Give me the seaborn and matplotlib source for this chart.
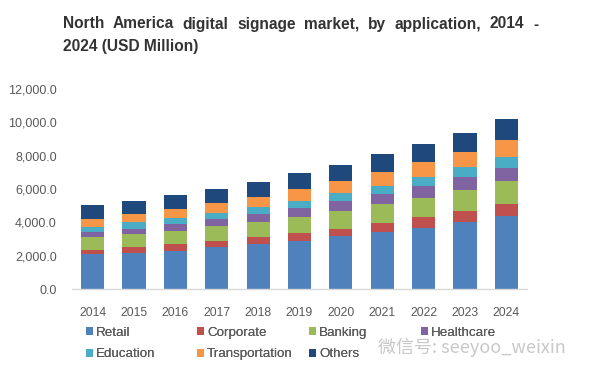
import numpy as np
import pandas as pd
import seaborn as sns
import matplotlib.pyplot as plt
from matplotlib.patches import Patch

years = ["2014", "2015", "2016", "2017", "2018", "2019", "2020", "2021", "2022", "2023", "2024"]
retail = [2080, 2180, 2300, 2500, 2700, 2900, 3180, 3440, 3680, 4020, 4380]
corporate = [260, 320, 400, 400, 400, 460, 440, 500, 620, 660, 700]
banking = [760, 780, 800, 880, 940, 980, 1060, 1140, 1180, 1260, 1380]
healthcare = [320, 320, 400, 440, 440, 540, 600, 600, 720, 780, 820]
education = [320, 420, 380, 320, 460, 400, 460, 520, 540, 580, 640]
transportation = [480, 460, 540, 600, 600, 720, 740, 800, 860, 940, 1000]
others = [820, 800, 800, 860, 900, 940, 980, 1080, 1120, 1140, 1260]

names = ["Retail", "Corporate", "Banking", "Healthcare", "Education", "Transportation", "Others"]
series = [retail, corporate, banking, healthcare, education, transportation, others]
colors = ["#4F81BD", "#C0504D", "#9BBB59", "#8064A2", "#4BACC6", "#F79646", "#1F497D"]

title1 = "North America digital signage market, by application, 2014 -"
title2 = "2024 (USD Million)"

df = pd.DataFrame(dict(zip(names, series)), index=years)
cum = df.cumsum(axis=1)

sns.set_style("white")
plt.rcParams['font.family'] = ['Liberation Sans', 'DejaVu Sans']

W, H = 592, 373
fig = plt.figure(figsize=(W / 100, H / 100), dpi=100)
ax = fig.add_axes([72 / W, 1 - 289 / H, 455 / W, 200 / H])

# stacked bars: draw cumulative totals from the top series down
for name, col in reversed(list(zip(names, colors))):
    sns.barplot(x=years, y=cum[name].values, color=col, width=0.56,
                saturation=1, ax=ax, linewidth=0)

ax.set_ylim(0, 12000)
ax.set_xlim(-0.5, 10.5)
ax.set_yticks(np.arange(0, 12001, 2000))
ax.set_yticklabels([f"{v:,.1f}" for v in np.arange(0, 12001, 2000)])
ax.tick_params(axis='both', length=0, labelcolor="#595959")
ax.tick_params(axis='y', pad=11, labelsize=9)
ax.tick_params(axis='x', pad=13, labelsize=8.7)
ax.set_xlabel("")
ax.set_ylabel("")
for s in ["top", "right", "left"]:
    ax.spines[s].set_visible(False)
ax.spines["bottom"].set_color("#D9D9D9")
ax.spines["bottom"].set_linewidth(1)

# justified title, line 1 spans from x=63 to x=538
renderer = fig.canvas.get_renderer()
words = title1.split()
texts = [fig.text(0, 1 - 24 / H, w, fontsize=11.2, fontweight="bold", color="#333333",
                  va="center", ha="left") for w in words]
widths = [t.get_window_extent(renderer).width for t in texts]
gap = (538 - 63 - sum(widths)) / (len(words) - 1)
x = 63
for t, w in zip(texts, widths):
    t.set_x(x / W)
    x += w + gap
fig.text(63 / W, 1 - 47 / H, title2, fontsize=11.2, fontweight="bold",
         color="#333333", va="center", ha="left")

# legend: four fixed-width columns, two rows
col_x = [86, 197, 309, 421]
for j, cx in enumerate(col_x):
    idx = [j, j + 4] if j + 4 < len(names) else [j]
    leg = fig.legend([Patch(facecolor=colors[i], edgecolor="none") for i in idx],
                     [names[i] for i in idx],
                     loc="upper left", bbox_to_anchor=(cx / W, 1 - 327 / H),
                     ncol=1, frameon=False, fontsize=9.6, handlelength=0.55,
                     handleheight=0.55, handletextpad=0.2, labelspacing=0.7,
                     borderaxespad=0, borderpad=0)
    for t in leg.get_texts():
        t.set_color("#595959")
    fig.add_artist(leg)

fig.text(378 / W, 1 - 347 / H, "微信号: seeyoo_weixin", fontsize=13,
         color="#C8C8C8", va="center", ha="left",
         family=["Noto Sans CJK SC", "DejaVu Sans"])

fig.savefig("out.png", dpi=100)
